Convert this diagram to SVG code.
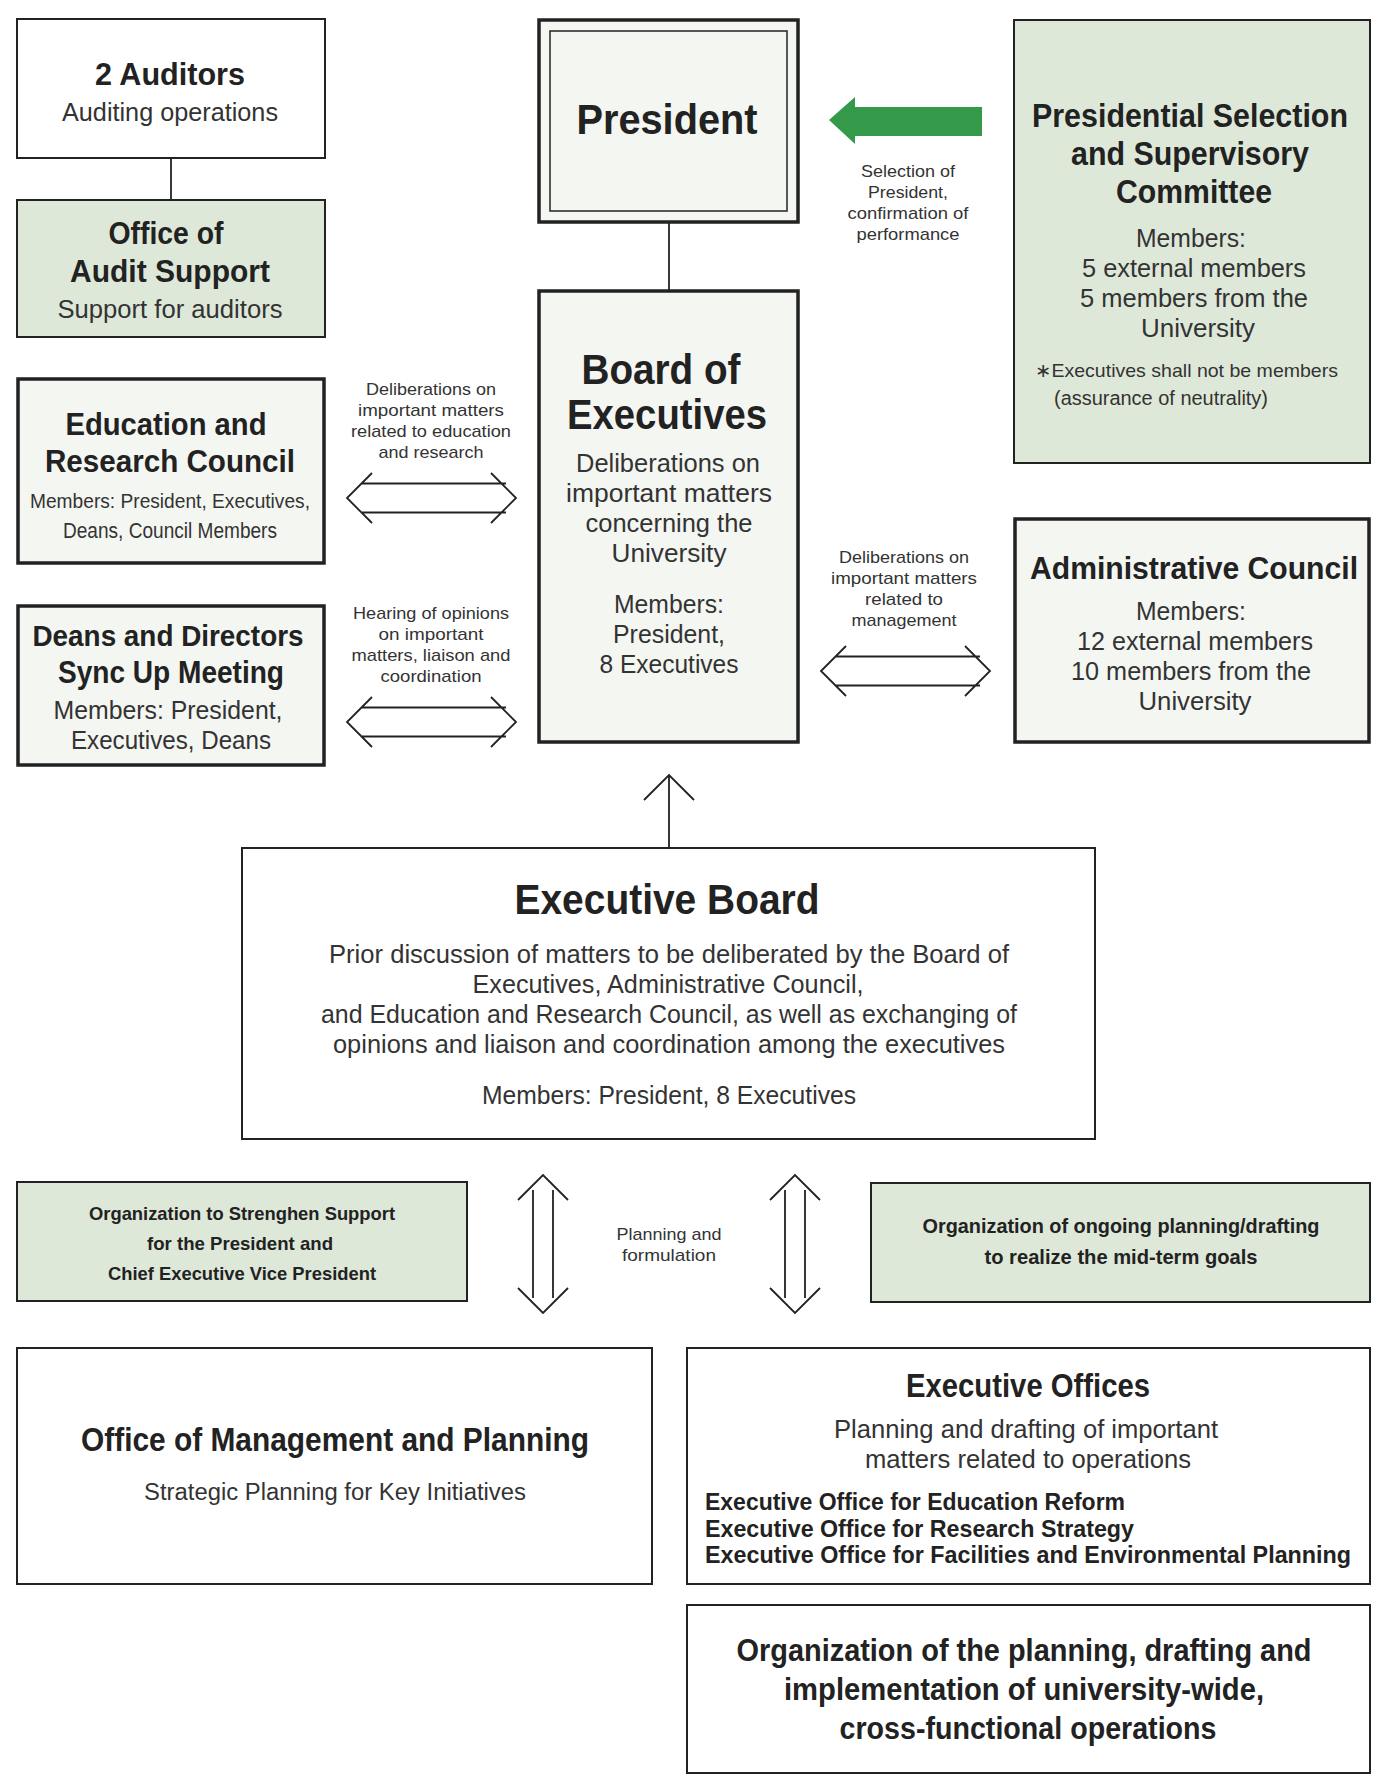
<svg xmlns="http://www.w3.org/2000/svg" width="1387" height="1791" viewBox="0 0 1387 1791">
<style>
.box{stroke:#222;stroke-width:2}
.thick{stroke:#222;stroke-width:3.5}
.green{fill:#dee8d9}
.light{fill:#f4f6f2}
.white{fill:#fff}
text{font-family:"Liberation Sans",Arial,sans-serif;text-anchor:middle;fill:#222}
.t{font-weight:bold}
.b{fill:#333}
.lbl{font-size:17px;fill:#333}
.s{text-anchor:start}
.conn{stroke:#222;stroke-width:1.8;fill:none}
</style>
<rect width="1387" height="1791" fill="#fff"/>
<g id="connectors">
<line class="conn" x1="171" y1="158" x2="171" y2="200"/>
<line class="conn" x1="669" y1="223" x2="669" y2="290"/>
<polygon points="829,120 855,97 855,107 982,107 982,136 855,136 855,144" fill="#35994a"/>
<g class="conn">
<path d="M372,473 L347,498 L372,523 M491,473 L516,498 L491,523 M362,483.5 H506 M362,512.5 H506"/>
<path d="M372,697 L347,722 L372,747 M491,697 L516,722 L491,747 M362,707.5 H506 M362,736.5 H506"/>
<path d="M846,646 L821,671 L846,696 M965,646 L990,671 L965,696 M836,656.5 H980 M836,685.5 H980"/>
<path d="M669,848 V775 M644,800 L669,775 L694,800"/>
<path d="M518,1200 L543,1175 L568,1200 M518,1288 L543,1313 L568,1288 M533,1190 V1298 M553,1190 V1298"/>
<path d="M770,1200 L795,1175 L820,1200 M770,1288 L795,1313 L820,1288 M785,1190 V1298 M805,1190 V1298"/>
</g>
<text class="lbl" x="908" y="177" textLength="94" lengthAdjust="spacingAndGlyphs">Selection of</text>
<text class="lbl" x="908" y="198" textLength="80" lengthAdjust="spacingAndGlyphs">President,</text>
<text class="lbl" x="908" y="219" textLength="121" lengthAdjust="spacingAndGlyphs">confirmation of</text>
<text class="lbl" x="908" y="240" textLength="103" lengthAdjust="spacingAndGlyphs">performance</text>
<text class="lbl" x="431" y="395" textLength="130" lengthAdjust="spacingAndGlyphs">Deliberations on</text>
<text class="lbl" x="431" y="416" textLength="146" lengthAdjust="spacingAndGlyphs">important matters</text>
<text class="lbl" x="431" y="437" textLength="160" lengthAdjust="spacingAndGlyphs">related to education</text>
<text class="lbl" x="431" y="458" textLength="105" lengthAdjust="spacingAndGlyphs">and research</text>
<text class="lbl" x="431" y="619" textLength="156" lengthAdjust="spacingAndGlyphs">Hearing of opinions</text>
<text class="lbl" x="431" y="640" textLength="105" lengthAdjust="spacingAndGlyphs">on important</text>
<text class="lbl" x="431" y="661" textLength="159" lengthAdjust="spacingAndGlyphs">matters, liaison and</text>
<text class="lbl" x="431" y="682" textLength="101" lengthAdjust="spacingAndGlyphs">coordination</text>
<text class="lbl" x="904" y="563" textLength="130" lengthAdjust="spacingAndGlyphs">Deliberations on</text>
<text class="lbl" x="904" y="584" textLength="146" lengthAdjust="spacingAndGlyphs">important matters</text>
<text class="lbl" x="904" y="605" textLength="78" lengthAdjust="spacingAndGlyphs">related to</text>
<text class="lbl" x="904" y="626" textLength="105" lengthAdjust="spacingAndGlyphs">management</text>
<text class="lbl" x="669" y="1240" textLength="105" lengthAdjust="spacingAndGlyphs">Planning and</text>
<text class="lbl" x="669" y="1261" textLength="94" lengthAdjust="spacingAndGlyphs">formulation</text>
</g>
<g id="auditors">
<rect class="box white" x="17" y="19" width="308" height="139"/>
<text class="t" x="170" y="85" font-size="31" textLength="150" lengthAdjust="spacingAndGlyphs">2 Auditors</text>
<text class="b" x="170" y="121" font-size="25" textLength="216" lengthAdjust="spacingAndGlyphs">Auditing operations</text>
</g>
<g id="audit-support">
<rect class="box green" x="17" y="200" width="308" height="137"/>
<text class="t" x="166" y="244" font-size="31" textLength="115" lengthAdjust="spacingAndGlyphs">Office of</text>
<text class="t" x="170" y="282" font-size="31" textLength="200" lengthAdjust="spacingAndGlyphs">Audit Support</text>
<text class="b" x="170" y="318" font-size="25" textLength="225" lengthAdjust="spacingAndGlyphs">Support for auditors</text>
</g>
<g id="edu-council">
<rect class="thick light" x="18" y="379" width="306" height="184"/>
<text class="t" x="166" y="435" font-size="31" textLength="201" lengthAdjust="spacingAndGlyphs">Education and</text>
<text class="t" x="170" y="472" font-size="31" textLength="250" lengthAdjust="spacingAndGlyphs">Research Council</text>
<text class="b" x="170" y="508" font-size="21" textLength="280" lengthAdjust="spacingAndGlyphs">Members: President, Executives,</text>
<text class="b" x="170" y="538" font-size="22" textLength="214" lengthAdjust="spacingAndGlyphs">Deans, Council Members</text>
</g>
<g id="deans">
<rect class="thick light" x="18" y="606" width="306" height="159"/>
<text class="t" x="168" y="646" font-size="30" textLength="271" lengthAdjust="spacingAndGlyphs">Deans and Directors</text>
<text class="t" x="171" y="683" font-size="31" textLength="226" lengthAdjust="spacingAndGlyphs">Sync Up Meeting</text>
<text class="b" x="168" y="719" font-size="25" textLength="229" lengthAdjust="spacingAndGlyphs">Members: President,</text>
<text class="b" x="171" y="749" font-size="25" textLength="200" lengthAdjust="spacingAndGlyphs">Executives, Deans</text>
</g>
<g id="president">
<rect class="thick light" x="539" y="20" width="259" height="202"/>
<rect x="550" y="31" width="237" height="180" fill="none" stroke="#222" stroke-width="1.5"/>
<text class="t" x="667" y="134" font-size="43" textLength="181" lengthAdjust="spacingAndGlyphs">President</text>
</g>
<g id="board-of-executives">
<rect class="thick light" x="539" y="291" width="259" height="451"/>
<text class="t" x="661" y="384" font-size="43" textLength="159" lengthAdjust="spacingAndGlyphs">Board of</text>
<text class="t" x="667" y="429" font-size="43" textLength="200" lengthAdjust="spacingAndGlyphs">Executives</text>
<text class="b" x="668" y="472" font-size="25" textLength="184" lengthAdjust="spacingAndGlyphs">Deliberations on</text>
<text class="b" x="669" y="502" font-size="25" textLength="206" lengthAdjust="spacingAndGlyphs">important matters</text>
<text class="b" x="669" y="532" font-size="25" textLength="167" lengthAdjust="spacingAndGlyphs">concerning the</text>
<text class="b" x="669" y="562" font-size="25" textLength="115" lengthAdjust="spacingAndGlyphs">University</text>
<text class="b" x="669" y="613" font-size="25" textLength="110" lengthAdjust="spacingAndGlyphs">Members:</text>
<text class="b" x="669" y="643" font-size="25" textLength="112" lengthAdjust="spacingAndGlyphs">President,</text>
<text class="b" x="669" y="673" font-size="25" textLength="139" lengthAdjust="spacingAndGlyphs">8 Executives</text>
</g>
<g id="selection-committee">
<rect class="box green" x="1014" y="20" width="356" height="443"/>
<text class="t" x="1190" y="127" font-size="33" textLength="316" lengthAdjust="spacingAndGlyphs">Presidential Selection</text>
<text class="t" x="1190" y="165" font-size="34" textLength="238" lengthAdjust="spacingAndGlyphs">and Supervisory</text>
<text class="t" x="1194" y="203" font-size="34" textLength="156" lengthAdjust="spacingAndGlyphs">Committee</text>
<text class="b" x="1191" y="247" font-size="25" textLength="110" lengthAdjust="spacingAndGlyphs">Members:</text>
<text class="b" x="1194" y="277" font-size="25" textLength="224" lengthAdjust="spacingAndGlyphs">5 external members</text>
<text class="b" x="1194" y="307" font-size="25" textLength="228" lengthAdjust="spacingAndGlyphs">5 members from the</text>
<text class="b" x="1198" y="337" font-size="25" textLength="114" lengthAdjust="spacingAndGlyphs">University</text>
<text class="b s" x="1035" y="377" font-size="19" textLength="303" lengthAdjust="spacingAndGlyphs">∗Executives shall not be members</text>
<text class="b s" x="1054" y="405" font-size="19.5" textLength="214" lengthAdjust="spacingAndGlyphs">(assurance of neutrality)</text>
</g>
<g id="admin-council">
<rect class="thick light" x="1015" y="519" width="354" height="223"/>
<text class="t" x="1194" y="579" font-size="31" textLength="328" lengthAdjust="spacingAndGlyphs">Administrative Council</text>
<text class="b" x="1191" y="620" font-size="25" textLength="110" lengthAdjust="spacingAndGlyphs">Members:</text>
<text class="b" x="1195" y="650" font-size="25" textLength="236" lengthAdjust="spacingAndGlyphs">12 external members</text>
<text class="b" x="1191" y="680" font-size="25" textLength="240" lengthAdjust="spacingAndGlyphs">10 members from the</text>
<text class="b" x="1195" y="710" font-size="25" textLength="113" lengthAdjust="spacingAndGlyphs">University</text>
</g>
<g id="executive-board">
<rect class="box white" x="242" y="848" width="853" height="291"/>
<text class="t" x="667" y="914" font-size="42" textLength="305" lengthAdjust="spacingAndGlyphs">Executive Board</text>
<text class="b" x="669" y="963" font-size="25" textLength="680" lengthAdjust="spacingAndGlyphs">Prior discussion of matters to be deliberated by the Board of</text>
<text class="b" x="668" y="993" font-size="25" textLength="391" lengthAdjust="spacingAndGlyphs">Executives, Administrative Council,</text>
<text class="b" x="669" y="1023" font-size="25" textLength="696" lengthAdjust="spacingAndGlyphs">and Education and Research Council, as well as exchanging of</text>
<text class="b" x="669" y="1053" font-size="25" textLength="672" lengthAdjust="spacingAndGlyphs">opinions and liaison and coordination among the executives</text>
<text class="b" x="669" y="1104" font-size="25" fill="#444" textLength="374" lengthAdjust="spacingAndGlyphs">Members: President, 8 Executives</text>
</g>
<g id="strengthen-support">
<rect class="box green" x="17" y="1182" width="450" height="119"/>
<text class="t" x="242" y="1220" font-size="19" textLength="306" lengthAdjust="spacingAndGlyphs">Organization to Strenghen Support</text>
<text class="t" x="240" y="1250" font-size="19" textLength="186" lengthAdjust="spacingAndGlyphs">for the President and</text>
<text class="t" x="242" y="1280" font-size="19" textLength="268" lengthAdjust="spacingAndGlyphs">Chief Executive Vice President</text>
</g>
<g id="midterm-goals">
<rect class="box green" x="871" y="1183" width="499" height="119"/>
<text class="t" x="1121" y="1233" font-size="21" textLength="397" lengthAdjust="spacingAndGlyphs">Organization of ongoing planning/drafting</text>
<text class="t" x="1121" y="1264" font-size="21" textLength="273" lengthAdjust="spacingAndGlyphs">to realize the mid-term goals</text>
</g>
<g id="management-planning">
<rect class="box white" x="17" y="1348" width="635" height="236"/>
<text class="t" x="335" y="1451" font-size="33" textLength="508" lengthAdjust="spacingAndGlyphs">Office of Management and Planning</text>
<text class="b" x="335" y="1500" font-size="23" textLength="382" lengthAdjust="spacingAndGlyphs">Strategic Planning for Key Initiatives</text>
</g>
<g id="executive-offices">
<rect class="box white" x="687" y="1348" width="683" height="236"/>
<text class="t" x="1028" y="1397" font-size="33" textLength="244" lengthAdjust="spacingAndGlyphs">Executive Offices</text>
<text class="b" x="1026" y="1438" font-size="25" fill="#444" textLength="384" lengthAdjust="spacingAndGlyphs">Planning and drafting of important</text>
<text class="b" x="1028" y="1468" font-size="25" fill="#444" textLength="326" lengthAdjust="spacingAndGlyphs">matters related to operations</text>
<text class="t s" x="705" y="1510" font-size="24" textLength="420" lengthAdjust="spacingAndGlyphs">Executive Office for Education Reform</text>
<text class="t s" x="705" y="1537" font-size="24" textLength="429" lengthAdjust="spacingAndGlyphs">Executive Office for Research Strategy</text>
<text class="t s" x="705" y="1563" font-size="23" textLength="646" lengthAdjust="spacingAndGlyphs">Executive Office for Facilities and Environmental Planning</text>
</g>
<g id="cross-functional">
<rect class="box white" x="687" y="1605" width="683" height="168"/>
<text class="t" x="1024" y="1661" font-size="32" textLength="575" lengthAdjust="spacingAndGlyphs">Organization of the planning, drafting and</text>
<text class="t" x="1024" y="1700" font-size="32" textLength="480" lengthAdjust="spacingAndGlyphs">implementation of university-wide,</text>
<text class="t" x="1028" y="1739" font-size="32" textLength="377" lengthAdjust="spacingAndGlyphs">cross-functional operations</text>
</g>
</svg>
